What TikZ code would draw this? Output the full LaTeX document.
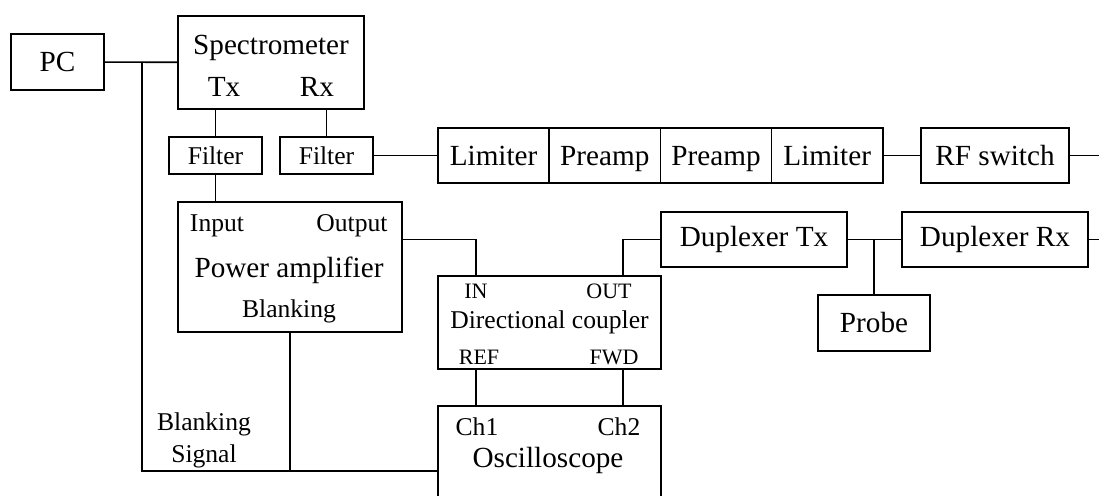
\documentclass[tikz,border=0pt]{standalone}
\usepackage{fontspec}
\setmainfont{Liberation Serif}
\usetikzlibrary{positioning}

\newcommand{\bigtxt}{\fontsize{14.6}{16}\selectfont}
\newcommand{\midtxt}{\fontsize{12.8}{14}\selectfont}
\newcommand{\smalltxt}{\fontsize{11}{12}\selectfont}

\begin{document}
\begin{tikzpicture}[x=0.5pt,y=-0.5pt,line width=0.8pt,
    box/.style={draw,inner sep=0pt,outer sep=0pt,font=\bigtxt},
    chainbox/.style={box,minimum width=55.6pt,minimum height=27.5pt,
      text height=10pt,text depth=0pt},
    lbl/.style={inner sep=0pt,font=\midtxt},
    port/.style={inner sep=0pt,font=\smalltxt}]
  \useasboundingbox (0,0) rectangle (1099,496);
  \clip (0,0) rectangle (1099,496);
  % top row
  \node[box,minimum width=46.5pt,minimum height=28pt] (pc) at (57.5,62) {PC};
  \node[box,minimum width=93pt,minimum height=46.5pt] (spec) at (271,62.5) {};
  \node[inner sep=0pt,font=\bigtxt] (spectxt) at (271,48) {Spectrometer};
  \node[inner sep=0pt,font=\bigtxt] (spectx) at (224,87) {Tx};
  \node[inner sep=0pt,font=\bigtxt] (specrx) at (317,87) {Rx};
  \node[box,font=\midtxt,minimum width=46.5pt,minimum height=18.5pt] (filt1) at (215.5,155.5) {Filter};
  \node[box,font=\midtxt,minimum width=46.5pt,minimum height=18.5pt] (filt2) at (326.5,155.5) {Filter};
  % receive chain
  \node[chainbox] (lim1) at (493.6,155.5) {Limiter};
  \node[chainbox] (pre1) [right=0pt of lim1] {Preamp};
  \node[chainbox] (pre2) [right=0pt of pre1] {Preamp};
  \node[chainbox] (lim2) [right=0pt of pre2] {Limiter};
  \node[box,minimum width=74pt,minimum height=27.5pt] (rfsw) at (995,155.5) {RF switch};
  \coordinate (rxend) at (1099,155.5);
  % power amplifier
  \node[box,minimum width=112pt,minimum height=65pt] (pa) at (290,267) {};
  \node[lbl] (pain) at (217,226) {Input};
  \node[lbl] (paout) at (352,226) {Output};
  \node[inner sep=0pt,font=\bigtxt] (patxt) at (289,270) {Power amplifier};
  \node[lbl] (pablank) at (289,311) {Blanking};
  % duplexer and probe
  \node[box,minimum width=93pt,minimum height=27.5pt] (duptx) at (754,239.5) {Duplexer Tx};
  \node[box,minimum width=93pt,minimum height=27.5pt] (duprx) at (995,239.5) {Duplexer Rx};
  \node[box,minimum width=56pt,minimum height=28pt] (probe) at (874,323) {Probe};
  \coordinate (dupend) at (1099,239.5);
  % directional coupler
  \node[box,font=\midtxt,minimum width=111.5pt,minimum height=46.5pt] (coup) at (549.5,322.5) {Directional coupler};
  \node[port] (cintxt) at (476,291) {IN};
  \node[port] (couttxt) at (609,291) {OUT};
  \node[port] (creftxt) at (479,357) {REF};
  \node[port] (cfwdtxt) at (614,357) {FWD};
  \coordinate (cin) at (476,276);
  \coordinate (cout) at (623,276);
  % oscilloscope
  \node[box,minimum width=111.5pt,minimum height=65pt] (osc) at (549.5,471) {};
  \node[lbl] (ch1) at (477,427) {Ch1};
  \node[lbl] (ch2) at (619,427) {Ch2};
  \node[inner sep=0pt,font=\bigtxt] (osctxt) at (548,460) {Oscilloscope};
  \node[lbl,align=center] (blanksig) at (204,440) {Blanking\\[2pt]Signal};
  \coordinate (j1) at (142,62);

  % connections
  \draw (pc) -- (spec);
  \draw (j1) |- (osc.west);
  \draw (pa.south) -- (pa.south |- osc.west);
  \draw (filt1.north) -- (filt1.north |- spec.south);
  \draw (filt2.north) -- (filt2.north |- spec.south);
  \draw (filt1.south) -- (filt1.south |- pa.north);
  \draw (filt2) -- (lim1);
  \draw (lim2) -- (rfsw);
  \draw (rfsw) -- (rxend);
  \draw (pa.east |- duptx.west) -| (cin);
  \draw (cout) |- (duptx.west);
  \draw (duptx) -- (duprx);
  \draw (probe.north) -- (probe.north |- duptx.east);
  \draw (duprx) -- (dupend);
  \draw (cin |- coup.south) -- (cin |- osc.north);
  \draw (cout |- coup.south) -- (cout |- osc.north);
\end{tikzpicture}
\end{document}
